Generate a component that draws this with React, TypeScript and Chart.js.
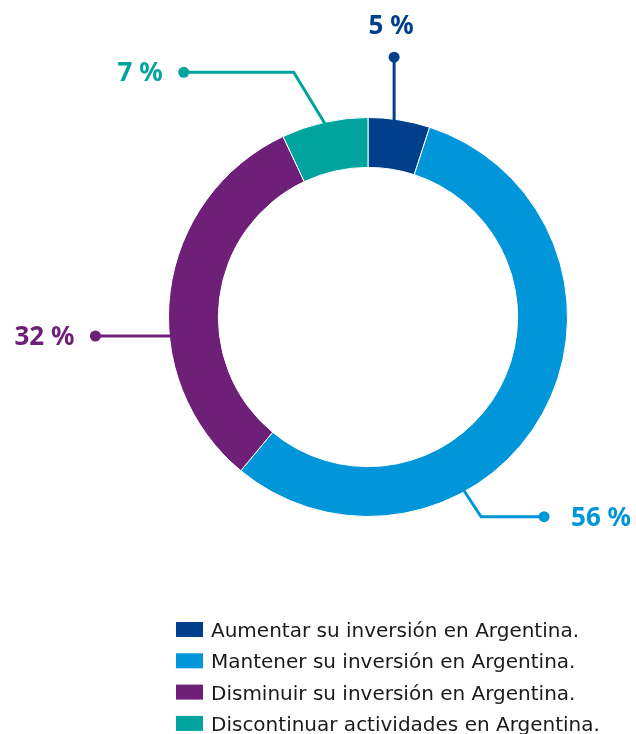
import React, { useEffect, useRef } from "react";
import { Chart, registerables } from "chart.js";

Chart.register(...registerables);

const categories = [
  "Aumentar su inversión en Argentina.",
  "Mantener su inversión en Argentina.",
  "Disminuir su inversión en Argentina.",
  "Discontinuar actividades en Argentina.",
];
const values = [5, 56, 32, 7];
const valueLabels = ["5 %", "56 %", "32 %", "7 %"];
const colors = ["#003f8c", "#0096d9", "#6e1f78", "#00a39d"];

// callout styling: where on the arc the leader starts and how it bends
type Callout = { frac: number; path: [number, number][]; side: "up" | "left" | "right" };
const callouts: Callout[] = [
  { frac: 0.42, path: [[0, -63]], side: "up" },
  { frac: 0.66, path: [[17, 26], [63, 0]], side: "right" },
  { frac: 0.39, path: [[-75, 0]], side: "left" },
  { frac: 0.5, path: [[-31, -51], [-110, 0]], side: "left" },
];

const calloutPlugin = {
  id: "callouts",
  afterDatasetsDraw(chart: any) {
    const ctx = chart.ctx;
    const meta = chart.getDatasetMeta(0);
    meta.data.forEach((arc: any, i: number) => {
      const c = callouts[i];
      const { x, y, startAngle, endAngle, outerRadius } = arc.getProps(
        ["x", "y", "startAngle", "endAngle", "outerRadius"],
        true
      );
      const a = startAngle + c.frac * (endAngle - startAngle);
      let px = x + Math.cos(a) * (outerRadius - 1);
      let py = y + Math.sin(a) * (outerRadius - 1);
      if (c.side === "left" && c.path.length === 1) py = Math.round(py);
      const color = colors[i];
      ctx.save();
      ctx.strokeStyle = color;
      ctx.fillStyle = color;
      ctx.lineWidth = 3;
      ctx.lineJoin = "miter";
      ctx.beginPath();
      ctx.moveTo(px, py);
      for (const [dx, dy] of c.path) {
        px += dx;
        py += dy;
        ctx.lineTo(px, py);
      }
      ctx.stroke();
      ctx.beginPath();
      ctx.arc(px, py, 5.5, 0, Math.PI * 2);
      ctx.fill();
      ctx.font = "bold 26px 'Noto Sans', sans-serif";
      ctx.textBaseline = "alphabetic";
      const label = valueLabels[i];
      if (c.side === "up") {
        ctx.textAlign = "center";
        ctx.fillText(label, px - 3, py - 23);
      } else if (c.side === "left") {
        ctx.textAlign = "right";
        ctx.fillText(label, px - 21, py + 9);
      } else {
        ctx.textAlign = "left";
        ctx.fillText(label, px + 27, py + 9);
      }
      ctx.restore();
    });
  },
};

const legendPlugin = {
  id: "customLegend",
  afterDraw(chart: any) {
    const ctx = chart.ctx;
    const labels = chart.data.labels as string[];
    const bg = chart.data.datasets[0].backgroundColor as string[];
    ctx.save();
    labels.forEach((lab, i) => {
      const base = 637 + i * 31.3;
      ctx.fillStyle = bg[i];
      ctx.fillRect(176, base - 15, 27, 15);
      ctx.fillStyle = "#1a1a1a";
      ctx.font = "20px 'DejaVu Sans', sans-serif";
      ctx.textAlign = "left";
      ctx.textBaseline = "alphabetic";
      ctx.fillText(lab, 211, base);
    });
    ctx.restore();
  },
};

export default function App() {
  const ref = useRef<HTMLCanvasElement | null>(null);
  useEffect(() => {
    document.body.style.margin = "0";
    if (!ref.current) return;
    const chart = new Chart(ref.current, {
      type: "doughnut",
      data: {
        labels: categories,
        datasets: [
          {
            data: values,
            backgroundColor: colors,
            borderColor: "#ffffff",
            borderWidth: 1,
          },
        ],
      },
      options: {
        animation: false,
        responsive: false,
        cutout: "75%",
        layout: { padding: { left: 168, right: 68, top: 117, bottom: 217 } },
        plugins: {
          legend: { display: false },
          tooltip: { enabled: false },
        },
      },
      plugins: [calloutPlugin, legendPlugin],
    });
    return () => chart.destroy();
  }, []);
  return (
    <div style={{ width: 636, height: 734, background: "#fff" }}>
      <canvas ref={ref} width={636} height={734} />
    </div>
  );
}
